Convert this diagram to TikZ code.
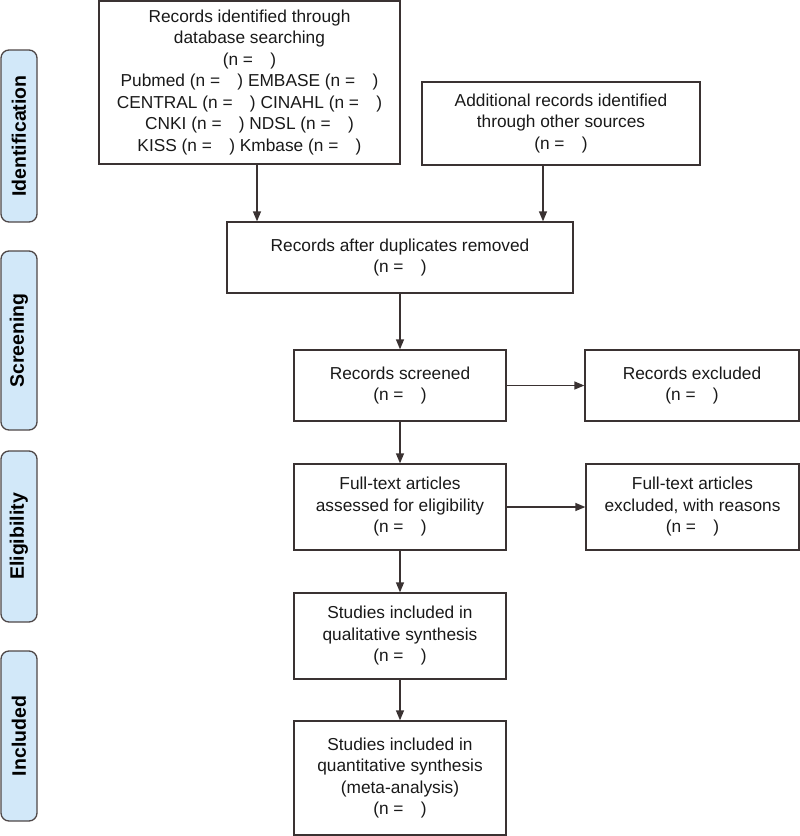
\documentclass[tikz,border=0pt]{standalone}
\usepackage{fontspec}
\setmainfont{Liberation Sans}
\usetikzlibrary{arrows.meta}
\definecolor{edgec}{HTML}{3A3232}
\definecolor{tabfill}{HTML}{D2E8F9}
\newcommand{\nn}{(n =\hspace{1em})}
\begin{document}
\begin{tikzpicture}[x=1pt,y=-1pt,
  box/.style={draw=edgec, line width=1.3pt, align=center, inner sep=0pt,
    font=\fontsize{17.3}{21.5}\selectfont, text=black!90},
  tabbox/.style={draw=edgec!90, fill=tabfill, line width=1.3pt, rounded corners=8pt,
    rotate=90, minimum height=36pt, inner sep=0pt,
    font=\fontsize{19.5}{22}\selectfont\bfseries, text=black},
  arr/.style={draw=edgec, line width=1.3pt, -{Triangle[length=10pt,width=8pt]}}]
\useasboundingbox (0,0) rectangle (800,836);

% phase tabs
\node[tabbox, minimum width=172pt] (tid) at (19,136) {Identification};
\node[tabbox, minimum width=179pt] (tsc) at (19,340.5) {Screening};
\node[tabbox, minimum width=171pt] (tel) at (19,536.5) {Eligibility};
\node[tabbox, minimum width=170pt] (tin) at (19,736) {Included};

% boxes
\node[box, minimum width=301pt, minimum height=163pt] (b1) at (249.5,82.5)
  {Records identified through\\database searching\\\nn\\Pubmed \nn{} EMBASE \nn\\CENTRAL \nn{} CINAHL \nn\\CNKI \nn{} NDSL \nn\\KISS \nn{} Kmbase \nn};
\node[box, minimum width=278pt, minimum height=83pt] (b2) at (561,123.5)
  {Additional records identified\\through other sources\\\nn};
\node[box, minimum width=346pt, minimum height=71pt] (dup) at (400,257.5)
  {Records after duplicates removed\\\nn};
\node[box, minimum width=212pt, minimum height=71pt] (scr) at (400,385.5)
  {Records screened\\\nn};
\node[box, minimum width=214pt, minimum height=71pt] (exc) at (692,385.5)
  {Records excluded\\\nn};
\node[box, minimum width=212pt, minimum height=86pt] (ft) at (400,507)
  {Full-text articles\\assessed for eligibility\\\nn};
\node[box, minimum width=213pt, minimum height=86pt] (fte) at (692.5,507)
  {Full-text articles\\excluded, with reasons\\\nn};
\node[box, minimum width=212pt, minimum height=86pt] (qual) at (400,636)
  {Studies included in\\qualitative synthesis\\\nn};
\node[box, minimum width=212pt, minimum height=114pt] (quant) at (400,778)
  {Studies included in\\quantitative synthesis\\(meta-analysis)\\\nn};

% connector columns
\coordinate (c1) at (257,0);
\coordinate (c2) at (543,0);

\draw[arr] (c1 |- b1.south) -- (c1 |- dup.north);
\draw[arr] (c2 |- b2.south) -- (c2 |- dup.north);
\draw[arr] (dup.south) -- (scr.north);
\draw[arr] (scr.east) -- (exc.west);
\draw[arr] (scr.south) -- (ft.north);
\draw[arr] (ft.east) -- (fte.west);
\draw[arr] (ft.south) -- (qual.north);
\draw[arr] (qual.south) -- (quant.north);
\end{tikzpicture}
\end{document}
